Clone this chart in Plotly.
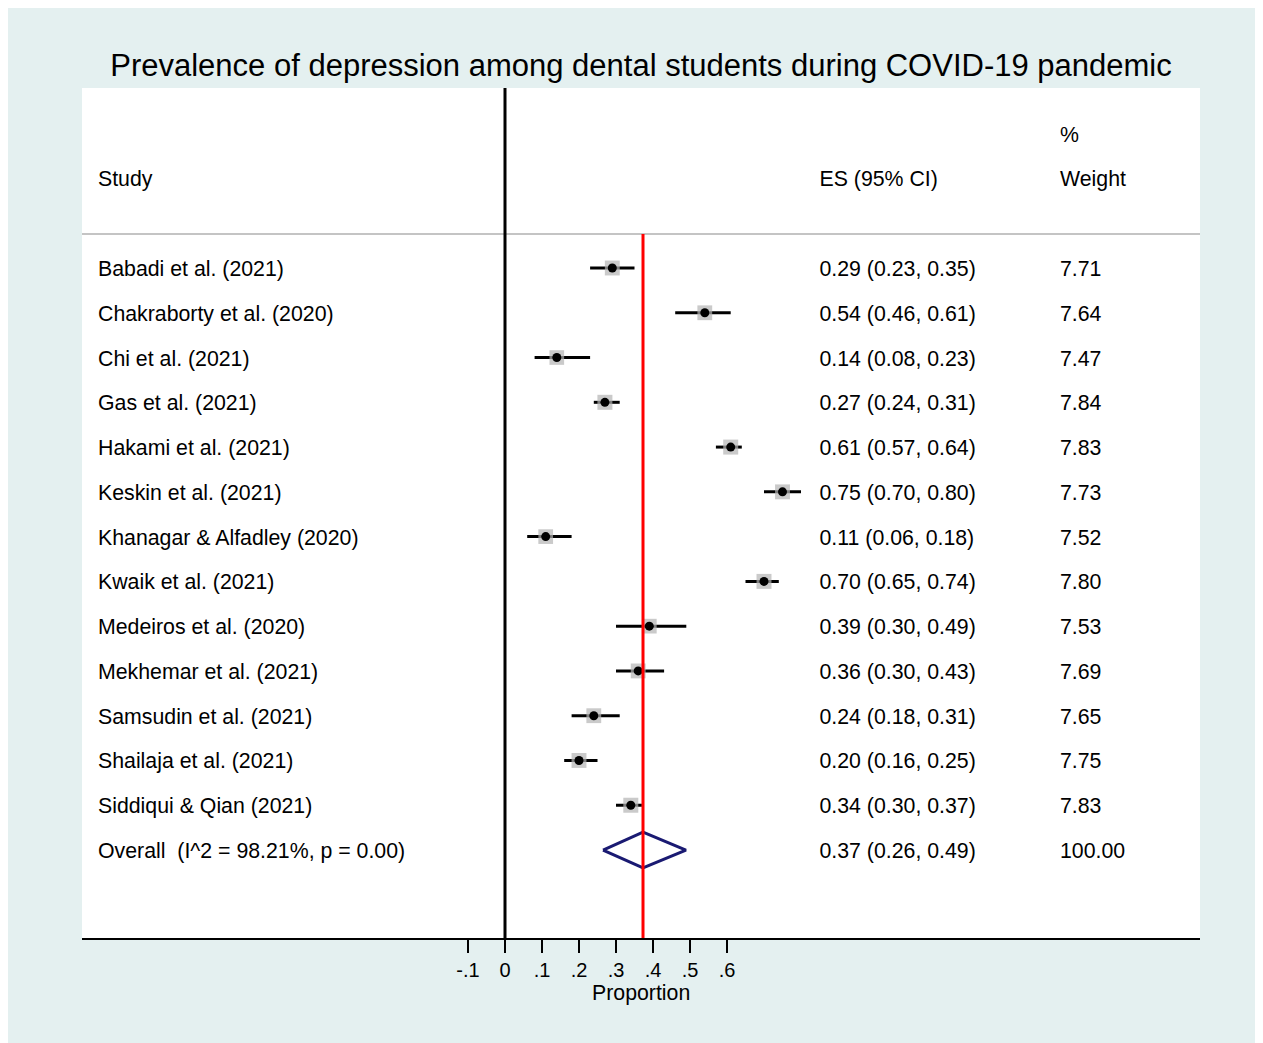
import plotly.graph_objects as go

studies = ["Babadi et al. (2021)", "Chakraborty et al. (2020)", "Chi et al. (2021)",
           "Gas et al. (2021)", "Hakami et al. (2021)", "Keskin et al. (2021)",
           "Khanagar & Alfadley (2020)", "Kwaik et al. (2021)", "Medeiros et al. (2020)",
           "Mekhemar et al. (2021)", "Samsudin et al. (2021)", "Shailaja et al. (2021)",
           "Siddiqui & Qian (2021)"]
es = [0.29, 0.54, 0.14, 0.27, 0.61, 0.75, 0.11, 0.70, 0.39, 0.36, 0.24, 0.20, 0.34]
lo = [0.23, 0.46, 0.08, 0.24, 0.57, 0.70, 0.06, 0.65, 0.30, 0.30, 0.18, 0.16, 0.30]
hi = [0.35, 0.61, 0.23, 0.31, 0.64, 0.80, 0.18, 0.74, 0.49, 0.43, 0.31, 0.25, 0.37]
weights = [7.71, 7.64, 7.47, 7.84, 7.83, 7.73, 7.52, 7.80, 7.53, 7.69, 7.65, 7.75, 7.83]

overall_label = "Overall  (I^2 = 98.21%, p = 0.00)"
overall_es = 0.373
overall_lo = 0.265
overall_hi = 0.489
overall_text = "0.37 (0.26, 0.49)"
overall_weight = "100.00"

x_ticks = [-0.1, 0, 0.1, 0.2, 0.3, 0.4, 0.5, 0.6]
x_ticktext = ["-.1", "0", ".1", ".2", ".3", ".4", ".5", ".6"]

title = "Prevalence of depression among dental students during COVID-19 pandemic"
FONT = "Liberation Sans, Arial, Helvetica, sans-serif"
BG = "#e4f0f0"
TXT = 21.3

n = len(studies)
rows = list(range(n))
orow = n
dy = 0.06  # small vertical nudge so text baselines sit like the reference

fig = go.Figure()

# CI lines
for i in rows:
    fig.add_trace(go.Scatter(x=[lo[i], hi[i]], y=[i, i], mode="lines",
                             line=dict(color="black", width=3), hoverinfo="skip",
                             showlegend=False))
# weight boxes
maxw = max(weights)
fig.add_trace(go.Scatter(x=es, y=rows, mode="markers",
                         marker=dict(symbol="square", color="#b4b4b4",
                                     size=[15 * (w / maxw) ** 0.5 for w in weights],
                                     line=dict(width=0)),
                         showlegend=False, hoverinfo="skip"))
# point estimates
fig.add_trace(go.Scatter(x=es, y=rows, mode="markers",
                         marker=dict(symbol="circle", color="black", size=9),
                         showlegend=False))
# overall diamond
fig.add_trace(go.Scatter(x=[overall_lo, overall_es, overall_hi, overall_es, overall_lo],
                         y=[orow, orow - 0.4, orow, orow + 0.4, orow], mode="lines",
                         line=dict(color="#1a1a72", width=3), showlegend=False))

# text columns
col_study, col_es, col_w = -1.1, 0.85, 1.5
ty = [r + dy for r in rows + [orow]]
fig.add_trace(go.Scatter(x=[col_study] * (n + 1), y=ty, mode="text",
                         text=studies + [overall_label], textposition="middle right",
                         textfont=dict(family=FONT, size=TXT, color="black"),
                         showlegend=False, hoverinfo="skip"))
es_text = [f"{e:.2f} ({l:.2f}, {h:.2f})" for e, l, h in zip(es, lo, hi)]
fig.add_trace(go.Scatter(x=[col_es] * (n + 1), y=ty, mode="text",
                         text=es_text + [overall_text], textposition="middle right",
                         textfont=dict(family=FONT, size=TXT, color="black"),
                         showlegend=False, hoverinfo="skip"))
fig.add_trace(go.Scatter(x=[col_w] * (n + 1), y=ty, mode="text",
                         text=[f"{w:.2f}" for w in weights] + [overall_weight],
                         textposition="middle right",
                         textfont=dict(family=FONT, size=TXT, color="black"),
                         showlegend=False, hoverinfo="skip"))
# headers
fig.add_trace(go.Scatter(x=[col_study, col_es, col_w, col_w],
                         y=[-2 + dy, -2 + dy, -2 + dy, -3 + dy], mode="text",
                         text=["Study", "ES (95% CI)", "Weight", "%"], textposition="middle right",
                         textfont=dict(family=FONT, size=TXT, color="black"),
                         showlegend=False, hoverinfo="skip"))

shapes = [
    # separator
    dict(type="line", xref="paper", yref="y", x0=0, x1=1, y0=-0.76, y1=-0.76,
         line=dict(color="#c4c4c4", width=2)),
    # null line
    dict(type="line", xref="x", yref="paper", x0=0, x1=0, y0=0, y1=1,
         line=dict(color="black", width=3)),
    # overall line
    dict(type="line", xref="x", yref="y", x0=overall_es, x1=overall_es, y0=-0.76, y1=15,
         line=dict(color="#ff0000", width=3)),
]

fig.update_layout(
    width=1300, height=1035,
    margin=dict(l=74, r=108, t=80, b=105),
    paper_bgcolor=BG, plot_bgcolor="white",
    font=dict(family=FONT, size=TXT, color="black"),
    title=dict(text=title, x=0.5, xref="paper", xanchor="center",
               y=1 - 57 / 1035, yref="container", yanchor="middle",
               font=dict(family=FONT, size=31, color="black")),
    shapes=shapes,
    showlegend=False,
    xaxis=dict(range=[(82 - 505) / 370, (1200 - 505) / 370], tickvals=x_ticks,
               ticktext=x_ticktext, ticks="outside", ticklen=13, tickwidth=2,
               tickcolor="black", showline=True, linecolor="black", linewidth=2,
               showgrid=False, zeroline=False, ticklabelstandoff=0,
               tickfont=dict(family=FONT, size=20, color="black")),
    yaxis=dict(range=[(938 - 268) / 44.77, (88 - 268) / 44.77], visible=False,
               showgrid=False, zeroline=False),
    annotations=[dict(text="Proportion", xref="paper", yref="paper", x=0.5,
                      y=-(993 - 938) / 850, xanchor="center", yanchor="middle",
                      showarrow=False, font=dict(family=FONT, size=TXT, color="black"))],
)

fig.write_html("out.html")
